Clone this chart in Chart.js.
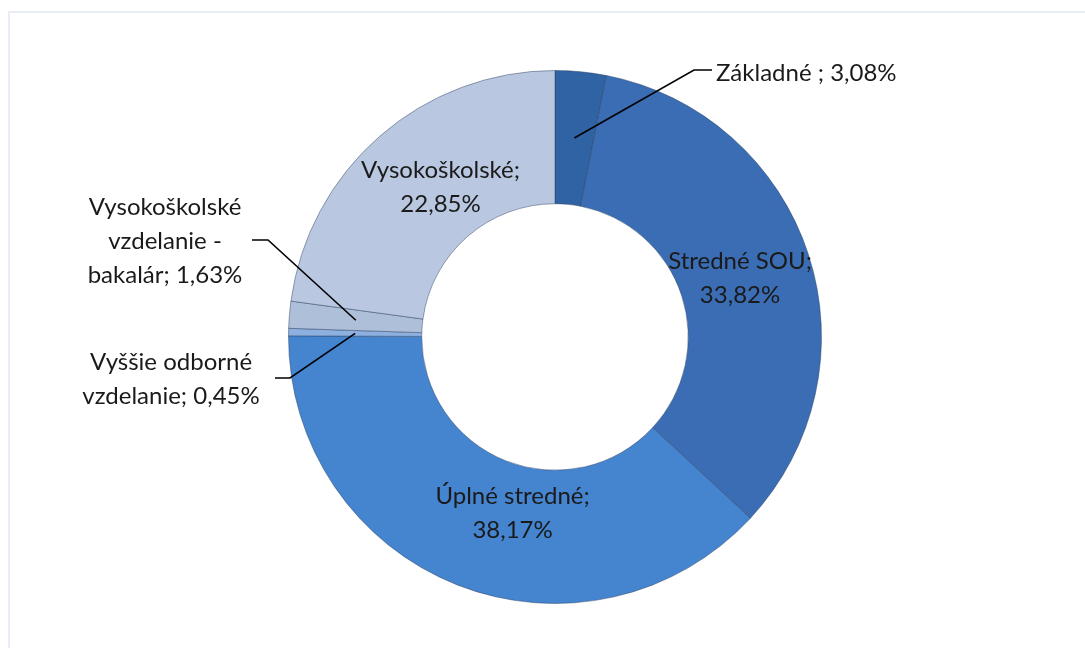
<!DOCTYPE html>
<html lang="sk">
<head>
<meta charset="utf-8">
<title>Vzdelanie</title>
<script src="https://cdn.jsdelivr.net/npm/chart.js@4"></script>
<style>
  html, body { margin: 0; padding: 0; background: #fff; overflow: hidden; }
  #wrap { position: relative; width: 1085px; height: 648px; }
  #ramik { position: absolute; left: 8px; top: 11px; width: 1200px; height: 800px;
           border-top: 2px solid #E9EEF6; border-left: 2px solid #E9EEF6; pointer-events: none; }
</style>
</head>
<body>
<div id="wrap">
  <canvas id="graf" width="1085" height="648"></canvas>
  <div id="ramik"></div>
</div>
<script>
// ── DATA ──
const kategorie = ['Základné', 'Stredné SOU', 'Úplné stredné', 'Vyššie odborné vzdelanie', 'Vysokoškolské vzdelanie - bakalár', 'Vysokoškolské'];
const podiely   = [3.08, 33.82, 38.17, 0.45, 1.63, 22.85];
const farby     = ['#2F63A3', '#3A6DB3', '#4584CF', '#8DB0E0', '#AEBFD9', '#B9C8E0'];

// text popiskov (riadky), bez percenta – percento sa doplní z dát
const popiskyRiadky = [
  ['Základné ; '],
  ['Stredné SOU;'],
  ['Úplné stredné;'],
  ['Vyššie odborné', 'vzdelanie; '],
  ['Vysokoškolské', 'vzdelanie -', 'bakalár; '],
  ['Vysokoškolské;'],
];

// ── UMIESTNENIE POPISKOV ──
// inside: posun od stredu prstenca; outside: zlom čiary relatívne k stredu grafu
const umiestnenie = [
  { typ: 'outside', zlom: [139, -267], chvost: 18, zarovnanie: 'left',   textX: 716, textY: 73 },
  { typ: 'inside',  posun: [-5, 3] },
  { typ: 'inside',  posun: [31, -10] },
  { typ: 'outside', zlom: [-265, 41], chvost: -15, zarovnanie: 'center', textX: 171, textY: 379 },
  { typ: 'outside', zlom: [-287, -97], chvost: -16, zarovnanie: 'center', textX: 165, textY: 241 },
  { typ: 'inside',  posun: [17, 1] },
];

const FONT = '24px Lato, "Open Sans", sans-serif';
const RIADOK = 34;

function formatPct(v) {
  return v.toFixed(2).replace('.', ',') + '%';
}

function riadkyPre(i) {
  const r = popiskyRiadky[i].slice();
  if (umiestnenie[i].typ === 'inside') {
    r.push(formatPct(podiely[i]));
  } else {
    r[r.length - 1] = r[r.length - 1] + formatPct(podiely[i]);
  }
  return r;
}

// ── PLUGIN: popisky a odkazové čiary ──
const popiskyPlugin = {
  id: 'popisky',
  afterDatasetsDraw(chart) {
    const ctx = chart.ctx;
    const meta = chart.getDatasetMeta(0);
    ctx.save();
    ctx.font = FONT;
    ctx.fillStyle = '#1A1A1A';
    ctx.textBaseline = 'middle';

    meta.data.forEach((arc, i) => {
      const p = arc.getProps(['x', 'y', 'startAngle', 'endAngle', 'innerRadius', 'outerRadius'], true);
      const uhol = (p.startAngle + p.endAngle) / 2;
      const r = (p.innerRadius + p.outerRadius) / 2;
      const mx = p.x + Math.cos(uhol) * r;
      const my = p.y + Math.sin(uhol) * r;
      const u = umiestnenie[i];
      const riadky = riadkyPre(i);

      if (u.typ === 'inside') {
        const cx = mx + u.posun[0];
        const cy = my + u.posun[1];
        ctx.textAlign = 'center';
        const y0 = cy - (riadky.length - 1) * RIADOK / 2;
        riadky.forEach((t, k) => ctx.fillText(t, cx, y0 + k * RIADOK));
      } else {
        const ex = p.x + u.zlom[0];
        const ey = p.y + u.zlom[1];
        ctx.beginPath();
        ctx.strokeStyle = '#000';
        ctx.lineWidth = 1.6;
        ctx.moveTo(mx, my);
        ctx.lineTo(ex, ey);
        ctx.lineTo(ex + u.chvost, ey);
        ctx.stroke();
        ctx.textAlign = u.zarovnanie;
        const y0 = u.textY - (riadky.length - 1) * RIADOK / 2;
        riadky.forEach((t, k) => ctx.fillText(t, u.textX, y0 + k * RIADOK));
      }
    });
    ctx.restore();
  }
};

// ── GRAF ──
new Chart(document.getElementById('graf').getContext('2d'), {
  type: 'doughnut',
  data: {
    labels: kategorie,
    datasets: [{
      data: podiely,
      backgroundColor: farby,
      borderColor: 'rgba(40,60,90,0.45)',
      borderWidth: 1,
      hoverOffset: 0,
    }]
  },
  options: {
    responsive: false,
    animation: false,
    cutout: '50%',
    layout: { padding: { left: 288, right: 263, top: 70, bottom: 44 } },
    plugins: {
      legend: { display: false },
      tooltip: { enabled: false },
    }
  },
  plugins: [popiskyPlugin]
});
</script>
</body>
</html>
